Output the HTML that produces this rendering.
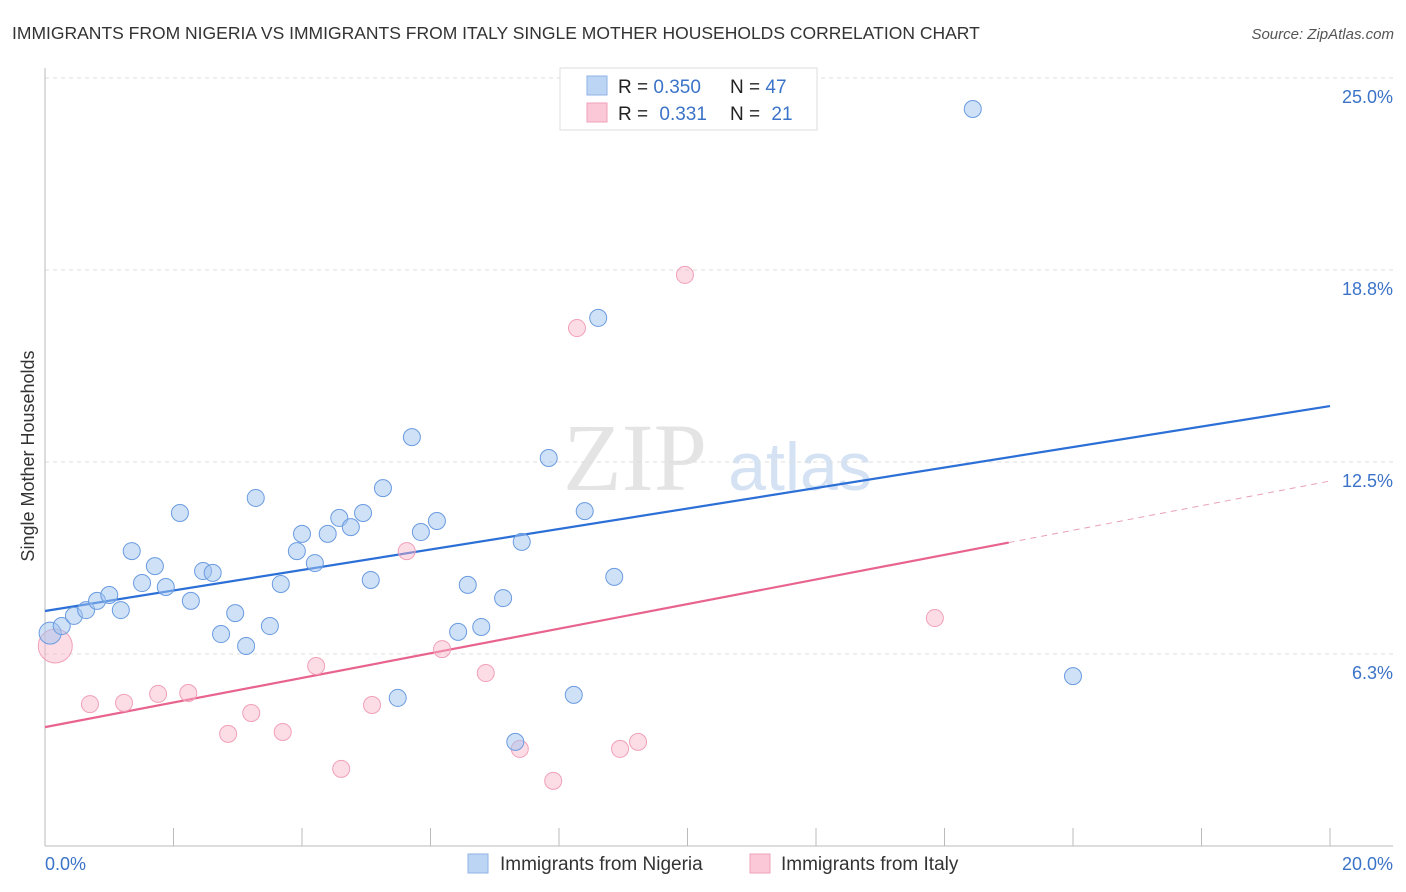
<!DOCTYPE html>
<html><head><meta charset="utf-8"><style>
body{margin:0;background:#fff;font-family:"Liberation Sans",sans-serif;}
svg{display:block}
</style></head><body>
<svg id="chart" width="1406" height="892" viewBox="0 0 1406 892" xmlns="http://www.w3.org/2000/svg">
<text x="12" y="39" font-size="17.5" fill="#333">IMMIGRANTS FROM NIGERIA VS IMMIGRANTS FROM ITALY SINGLE MOTHER HOUSEHOLDS CORRELATION CHART</text>
<text x="1394" y="39" font-size="15" fill="#555" font-style="italic" text-anchor="end">Source: ZipAtlas.com</text>
<g>
<text x="635" y="490" font-family="Liberation Serif,serif" font-size="96" fill="#e4e4e4" text-anchor="middle">ZIP</text>
<text x="800" y="490" font-size="68" fill="#d4e2f4" text-anchor="middle">atlas</text>
</g>
<g id="grid"></g>
<g id="axes"></g>
<g id="lines"></g>
<g id="pts"></g>
<text transform="translate(34,456) rotate(-90)" font-size="18" fill="#333" text-anchor="middle">Single Mother Households</text>
<g>
<rect x="560" y="68" width="257" height="62" fill="#fff" stroke="#ddd"/>
<rect x="587" y="76" width="20" height="19" fill="#bcd5f5" stroke="#8fb3e6"/>
<rect x="587" y="103" width="20" height="19" fill="#fac8d6" stroke="#f0a0b8"/>
<text x="618" y="93" font-size="19" fill="#222">R = <tspan fill="#3b73c8">0.350</tspan></text>
<text x="730" y="93" font-size="19" fill="#222">N = <tspan fill="#3b73c8">47</tspan></text>
<text x="618" y="120" font-size="19" fill="#222">R = <tspan fill="#3b73c8" dx="6">0.331</tspan></text>
<text x="730" y="120" font-size="19" fill="#222">N = <tspan fill="#3b73c8" dx="6">21</tspan></text>
</g>
<g>
<rect x="468" y="854" width="20" height="19" fill="#bcd5f5" stroke="#8fb3e6"/>
<text x="500" y="870" font-size="19" fill="#333">Immigrants from Nigeria</text>
<rect x="750" y="854" width="20" height="19" fill="#fac8d6" stroke="#f0a0b8"/>
<text x="781" y="870" font-size="19" fill="#333">Immigrants from Italy</text>
</g>
</svg>
<script>
const xTicks=[0,2,4,6,8,10,12,14,16,18,20];
const yTicks=[25.0,18.75,12.5,6.25];
const yTickLabels=["25.0%","18.8%","12.5%","6.3%"];
const nigeriaX=[0.08,0.26,0.45,0.64,0.81,1.00,1.18,1.35,1.51,1.71,1.88,2.10,2.27,2.46,2.61,2.74,2.96,3.13,3.28,3.50,3.67,3.92,4.00,4.20,4.40,4.58,4.76,4.95,5.07,5.26,5.49,5.71,5.85,6.10,6.43,6.58,6.79,7.13,7.32,7.42,7.84,8.23,8.40,8.61,8.86,14.44,16.00];
const nigeriaY=[6.93,7.16,7.49,7.68,7.98,8.17,7.68,9.60,8.56,9.11,8.43,10.84,7.98,8.95,8.89,6.90,7.58,6.51,11.33,7.16,8.53,9.60,10.16,9.21,10.16,10.68,10.38,10.84,8.66,11.65,4.82,13.31,10.22,10.58,6.97,8.50,7.13,8.07,3.39,9.90,12.63,4.92,10.90,17.19,8.76,23.99,5.53];
const italyX=[0.16,0.70,1.23,1.76,2.23,2.85,3.21,3.70,4.22,4.61,5.09,5.63,6.18,6.86,7.39,7.91,8.28,8.95,9.23,9.96,13.85];
const italyY=[6.51,4.62,4.66,4.95,4.98,3.65,4.33,3.71,5.86,2.51,4.59,9.60,6.41,5.63,3.16,2.12,16.86,3.16,3.39,18.59,7.42];
const nigeriaTrend=[7.65,14.32];
const italyTrend=[3.87,11.88];
const italySolidEnd=15.0;
const NS="http://www.w3.org/2000/svg";
const X=v=>45+v/20*1285;
const Y=v=>78+(25-v)*30.72;
function mk(tag,attrs,parent){const e=document.createElementNS(NS,tag);for(const k in attrs)e.setAttribute(k,attrs[k]);parent.appendChild(e);return e;}
const grid=document.getElementById('grid'),axes=document.getElementById('axes'),lines=document.getElementById('lines'),pts=document.getElementById('pts');
yTicks.forEach((t,i)=>{
 const l=mk('line',{x1:45,x2:1393,y1:Y(t),y2:Y(t),stroke:'#ddd','stroke-dasharray':'4,4'},grid);
 
 
 const tx=mk('text',{x:1393,y:Y(t)+25,'font-size':18,fill:'#3b73c8','text-anchor':'end'},axes);
 tx.textContent=yTickLabels[i];
 
 
});
mk('line',{x1:45,x2:45,y1:68,y2:846,stroke:'#bbb'},axes);
mk('line',{x1:45,x2:1393,y1:846,y2:846,stroke:'#bbb'},axes);
xTicks.forEach(t=>{
 const l=mk('line',{x1:X(t),x2:X(t),y1:828,y2:846,stroke:'#bbb'},axes);
 
 
});
const xl0=mk('text',{x:45,y:870,'font-size':18,fill:'#3b73c8'},axes);xl0.textContent=xTicks[0].toFixed(1)+'%';


const xl1=mk('text',{x:1393,y:870,'font-size':18,fill:'#3b73c8','text-anchor':'end'},axes);xl1.textContent=xTicks[xTicks.length-1].toFixed(1)+'%';


// trend lines
const nt=mk('line',{x1:X(0),y1:Y(nigeriaTrend[0]),x2:X(20),y2:Y(nigeriaTrend[1]),stroke:'#2c6fd6','stroke-width':2.2},lines);


const iAt=v=>italyTrend[0]+(italyTrend[1]-italyTrend[0])*v/20;
const it=mk('line',{x1:X(0),y1:Y(iAt(0)),x2:X(italySolidEnd),y2:Y(iAt(italySolidEnd)),stroke:'#e8648e','stroke-width':2.2},lines);


const itd=mk('line',{x1:X(italySolidEnd),y1:Y(iAt(italySolidEnd)),x2:X(20),y2:Y(iAt(20)),stroke:'#e8a0b8','stroke-width':1,'stroke-dasharray':'6,5'},lines);


// points
italyX.forEach((v,i)=>{
 const c=mk('circle',{cx:X(v),cy:Y(italyY[i]),r:i===0?17:8.5,fill:'rgba(248,180,200,0.45)',stroke:'#f0a0b8','stroke-width':1},pts);
 
 
});
nigeriaX.forEach((v,i)=>{
 const c=mk('circle',{cx:X(v),cy:Y(nigeriaY[i]),r:i===0?11:8.5,fill:'rgba(160,196,240,0.5)',stroke:'#6a9be0','stroke-width':1},pts);
 
 
});
</script>
</body></html>
